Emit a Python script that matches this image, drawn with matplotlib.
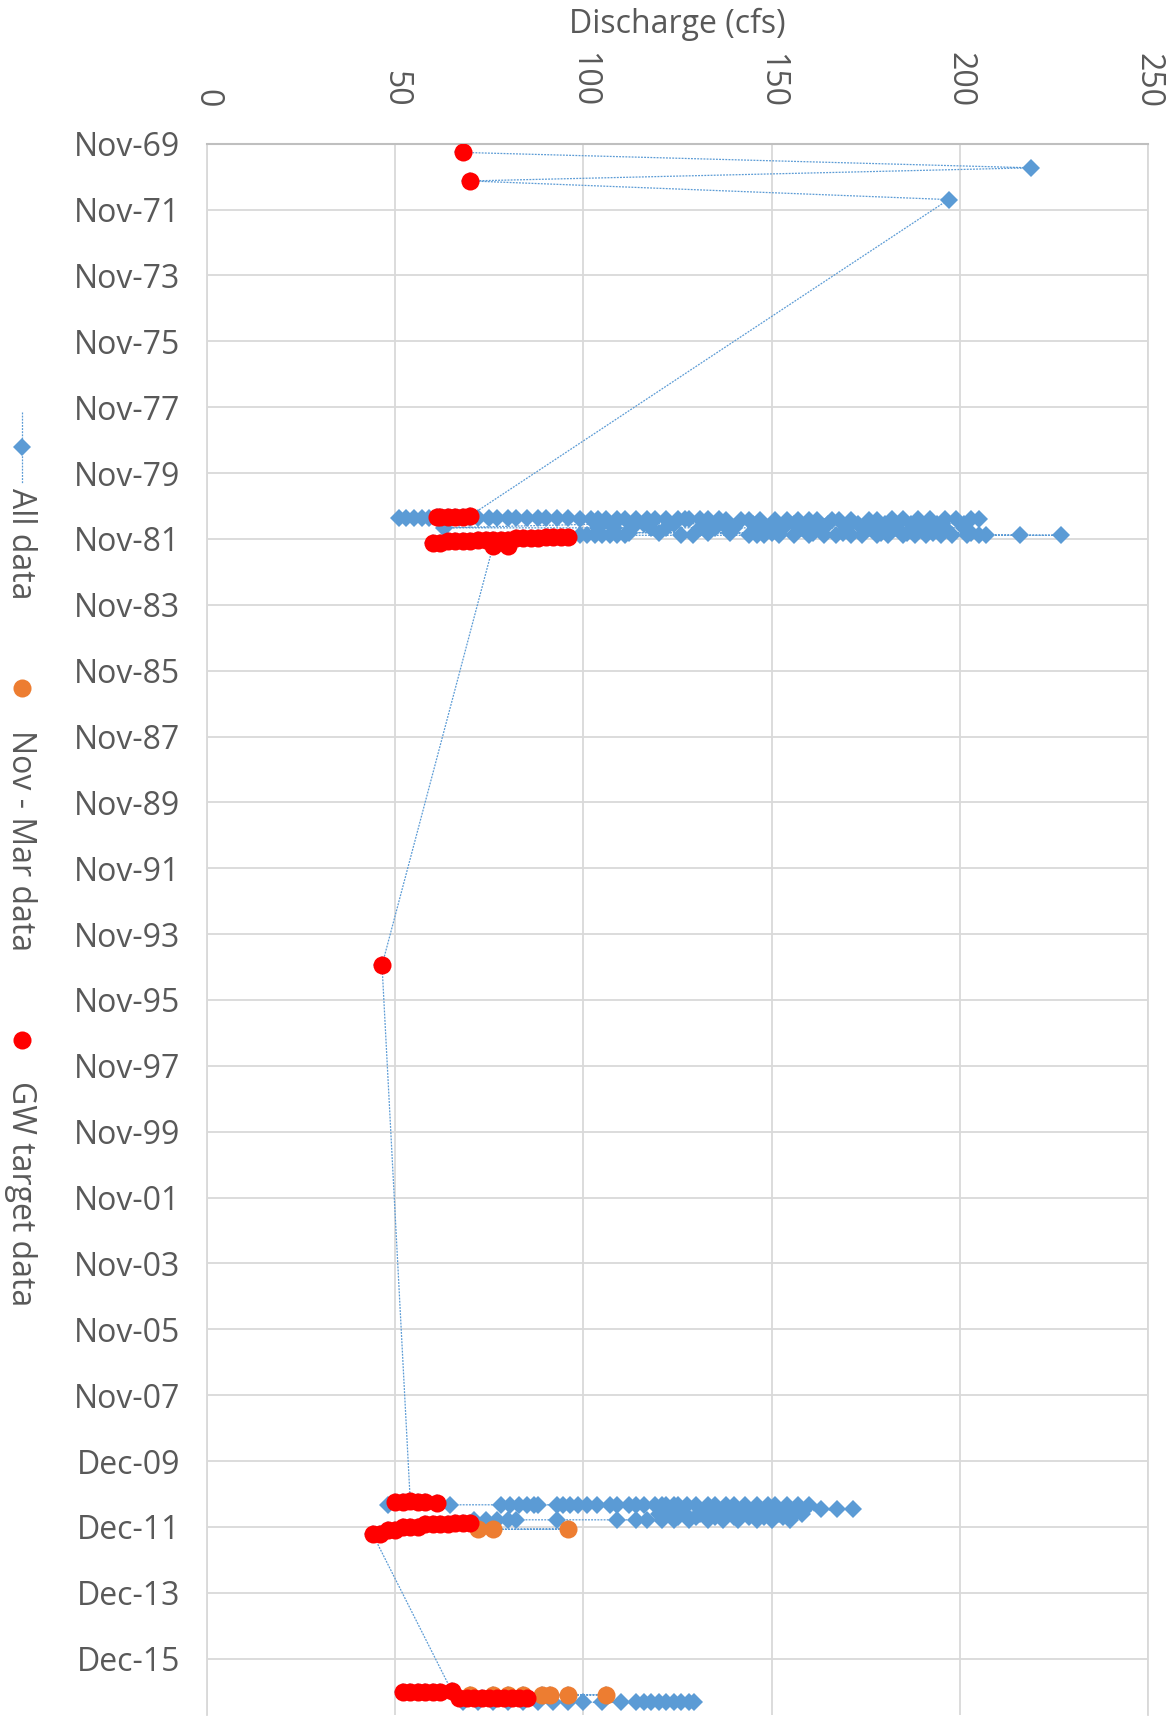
import matplotlib
matplotlib.use('Agg')
import matplotlib.pyplot as plt
import numpy as np
import pandas as pd
from matplotlib.lines import Line2D

plt.rcParams['font.family'] = ['Open Sans', 'DejaVu Sans']

# ---- data: (date, [discharge values]) ----
all_1970 = [('1970-07-27', [219]), ('1971-07-15', [197])]
gw_1970 = [('1970-02-06', [68]), ('1970-12-20', [70])]

gw_1981_up = [('1981-02-23', [70]), ('1981-03-08', [68, 66, 64, 62, 61])]
all_1981_up = [('1981-03-28', [51, 53, 55, 57, 59, 61, 63, 65, 67, 70, 72, 75, 77, 80, 82, 85, 88, 90, 93, 96]),
               ('1981-04-05', [99, 102, 104, 106, 109, 111, 114, 117, 119, 122, 125, 127, 128, 131, 133, 136]),
               ('1981-04-15', [138, 142, 144, 147, 151, 154, 157, 160, 162, 166, 168, 171, 176, 178]),
               ('1981-04-01', [182, 185, 189, 192, 196, 199, 203, 205])]
all_1981_mid = [('1981-05-25', [201, 194, 187, 180, 173, 165, 156, 150, 145, 137, 124, 116, 108]),
                ('1981-07-10', [63, 104, 108, 113, 118, 122, 131, 135, 140, 147, 153, 158, 163, 170, 176,
                                183, 190, 196, 201]),
                ('1981-09-01', [203, 193, 186, 179, 169, 161, 150, 139, 133, 120, 112])]
all_1981_lo = [('1981-10-01', [227, 216, 207, 205, 202, 198, 195, 191, 188, 185, 181, 178, 174, 171, 167,
                               164, 160, 156, 152, 148, 146, 144, 129, 126, 111, 109, 107, 105, 103, 101, 99])]
gw_1981_lo = [('1981-10-20', [96, 94, 92, 90]), ('1981-11-05', [88, 86, 84, 82]),
              ('1981-11-20', [80, 78, 76, 74, 72]), ('1981-12-05', [70, 68, 66, 64]),
              ('1981-12-25', [62, 60]), ('1982-01-25', [80, 76])]

gw_1994 = [('1994-10-31', [46.5])]

gw_2011_up = [('2011-02-20', [54]), ('2011-03-01', [50, 52, 56, 58]), ('2011-03-10', [61])]
all_2011_up = [('2011-04-01', [48, 64.5, 78, 80.5, 83, 85, 87, 88, 93, 94.5, 96.5, 98.6, 101, 103.6, 107, 109,
                               112, 114, 116, 119, 121, 122, 124, 125, 127.5, 130, 133, 135, 138, 140, 143,
                               146, 149, 151, 154, 157, 160]),
               ('2011-05-20', [163, 167.5, 171.5])]
all_2011_mid = [('2011-06-10', [158, 153, 147, 141, 136, 132, 126]),
                ('2011-07-10', [120, 123, 127, 131, 134, 138, 142, 145, 149, 152, 156, 158]),
                ('2011-08-10', [153, 148, 144, 140, 135, 130, 125])]
all_2011_lo = [('2011-09-15', [155, 150, 146, 141, 137, 133, 128, 124, 121, 117, 114, 109, 93, 82, 80, 77,
                               74, 71])]
nm_2011 = [('2011-12-27', [72, 76, 96])]
gw_2011_lo = [('2011-10-15', [70, 68, 66]), ('2011-11-05', [64, 62, 60, 58]), ('2011-12-01', [56, 54, 52]),
              ('2012-01-05', [50, 48]), ('2012-02-20', [46, 44])]

gw_2016 = [('2016-11-28', [65]), ('2016-12-05', [62, 60, 58, 56, 54, 52]),
           ('2017-02-10', [67, 69, 71, 73, 75, 77, 79, 81, 83, 85])]
nm_2016 = [('2017-01-10', [70, 76, 80, 84, 89, 91, 96, 106])]
all_2016 = [('2017-04-05', [68, 72, 76, 80, 84, 88, 92, 96, 100, 105, 110, 114, 116, 118, 120, 122, 124,
                            126, 128, 129.5])]

date_labels = ['Nov-69', 'Nov-71', 'Nov-73', 'Nov-75', 'Nov-77', 'Nov-79', 'Nov-81', 'Nov-83', 'Nov-85',
               'Nov-87', 'Nov-89', 'Nov-91', 'Nov-93', 'Nov-95', 'Nov-97', 'Nov-99', 'Nov-01', 'Nov-03',
               'Nov-05', 'Nov-07', 'Dec-09', 'Dec-11', 'Dec-13', 'Dec-15']
q_ticks = [0, 50, 100, 150, 200, 250]


def to_frame(groups):
    rows = []
    for day, vals in groups:
        for v in vals:
            rows.append((pd.Timestamp(day), v))
    return pd.DataFrame(rows, columns=['date', 'q'])


blue_only = to_frame(all_1970 + all_1981_up + all_1981_mid + all_1981_lo + all_2011_up + all_2011_mid
                     + all_2011_lo + all_2016)
nm = to_frame(nm_2011 + nm_2016)
gw = to_frame(gw_1970 + gw_1981_up + gw_1981_lo + gw_1994 + gw_2011_up + gw_2011_lo + gw_2016)
alld = pd.concat([blue_only, nm, gw]).sort_values('date', kind='stable')

BLUE = '#5B9BD5'
ORANGE = '#ED7D31'
RED = '#FF0000'
GRAY_TXT = '#595959'
GRID = '#D9D9D9'
FS = 23
DMS = 9.2   # diamond size
CMS = 13    # circle size

fig = plt.figure(figsize=(11.75, 17.2), dpi=100)
ax = fig.add_axes([207 / 1175, 1 - 1715 / 1720, 941 / 1175, (1715 - 143.7) / 1720])

ax.plot(alld['q'], alld['date'], color=BLUE, lw=0.9, ls=(0, (1.5, 1)), marker='D', ms=DMS, mew=0, zorder=3)
ax.plot(nm['q'], nm['date'], ls='none', marker='o', ms=CMS, mew=0, color=ORANGE, zorder=4)
ax.plot(gw['q'], gw['date'], ls='none', marker='o', ms=CMS, mew=0, color=RED, zorder=5)

start = pd.Timestamp('1969-11-01')
yt = [start + pd.Timedelta(days=732 * k) for k in range(len(date_labels))]
ax.set_yticks(yt)
ax.set_yticklabels(date_labels)
ax.set_ylim(pd.Timestamp('2017-08-23'), start)

ax.set_xlim(0, 250)
ax.set_xticks(q_ticks)
ax.set_xticklabels([str(t) for t in q_ticks])
ax.xaxis.tick_top()
ax.tick_params(axis='x', length=0, pad=26, labelsize=FS, labelcolor=GRAY_TXT, labelrotation=-90)
ax.tick_params(axis='y', length=0, pad=19.5, labelsize=FS, labelcolor=GRAY_TXT)

ax.grid(True, color=GRID, lw=1.3, zorder=0)
ax.set_axisbelow(True)
ax.spines['bottom'].set_visible(False)
ax.spines['top'].set_color('#BFBFBF')
ax.spines['top'].set_linewidth(1.5)
ax.spines['left'].set_color(GRID)
ax.spines['left'].set_linewidth(1.3)
ax.spines['right'].set_color(GRID)
ax.spines['right'].set_linewidth(1.3)

fig.text(677 / 1175, 1 - 33 / 1720, 'Discharge (cfs)', ha='center', va='baseline', fontsize=FS, color=GRAY_TXT)

# legend drawn by hand, rotated like the rest of the chart
def fy(px):
    return 1 - px / 1720

lx = 22 / 1175
fig.add_artist(Line2D([lx, lx], [fy(412), fy(483)], transform=fig.transFigure, color=BLUE, lw=0.9,
                      ls=(0, (1.5, 1))))
fig.add_artist(Line2D([lx], [fy(447)], transform=fig.transFigure, color=BLUE, marker='D', ms=DMS, mew=0))
fig.add_artist(Line2D([lx], [fy(688)], transform=fig.transFigure, color=ORANGE, marker='o', ms=CMS, mew=0))
fig.add_artist(Line2D([lx], [fy(1040)], transform=fig.transFigure, color=RED, marker='o', ms=CMS, mew=0))
for y0, txt in [(488, 'All data'), (730, 'Nov - Mar data'), (1081, 'GW target data')]:
    fig.text(20 / 1175, fy(y0), txt, rotation=-90, ha='center', va='top', fontsize=FS, color=GRAY_TXT)

fig.savefig('out.png', dpi=100)
